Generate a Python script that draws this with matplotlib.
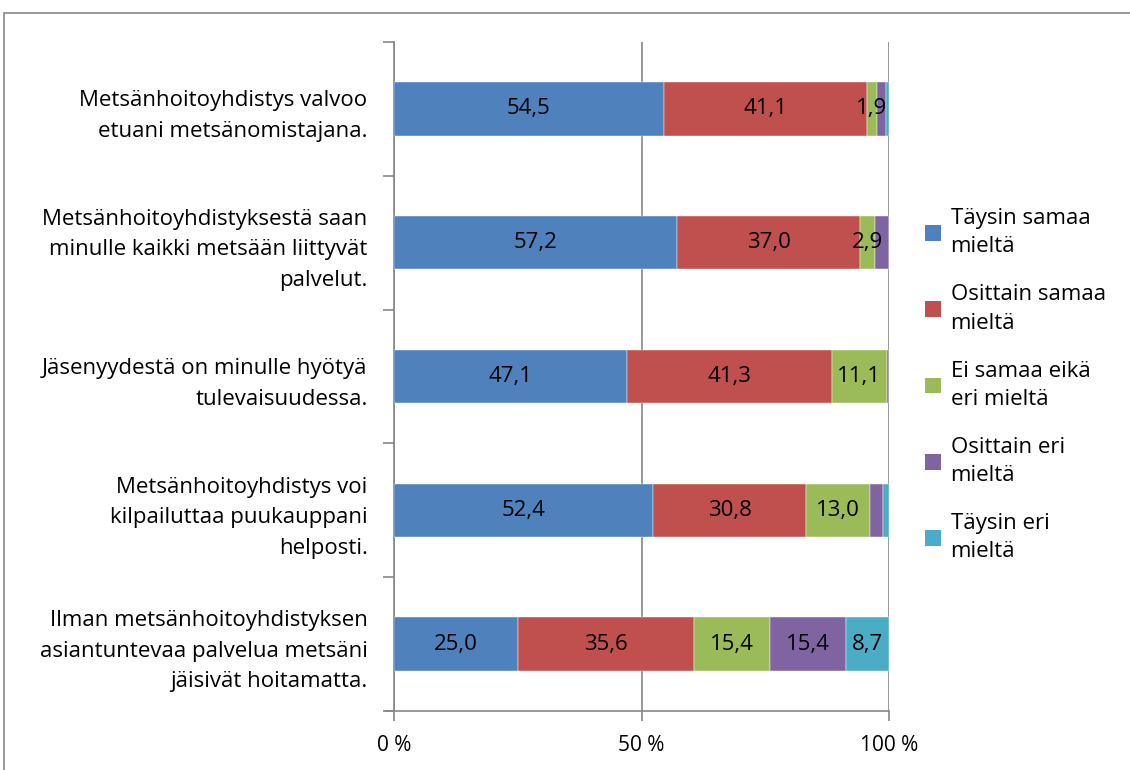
import numpy as np
import matplotlib.pyplot as plt
from matplotlib.patches import Rectangle, Patch

plt.rcParams['font.family'] = ['Open Sans', 'DejaVu Sans']

categories = [
    'Metsänhoitoyhdistys valvoo\netuani metsänomistajana.',
    'Metsänhoitoyhdistyksestä saan\nminulle kaikki metsään liittyvät\npalvelut.',
    'Jäsenyydestä on minulle hyötyä\ntulevaisuudessa.',
    'Metsänhoitoyhdistys voi\nkilpailuttaa puukauppani\nhelposti.',
    'Ilman metsänhoitoyhdistyksen\nasiantuntevaa palvelua metsäni\njäisivät hoitamatta.',
]
series = ['Täysin samaa\nmieltä', 'Osittain samaa\nmieltä', 'Ei samaa eikä\neri mieltä',
          'Osittain eri\nmieltä', 'Täysin eri\nmieltä']
taysin_samaa = [54.5, 57.2, 47.1, 52.4, 25.0]
osittain_samaa = [41.1, 37.0, 41.3, 30.8, 35.6]
ei_samaa_eika_eri = [1.9, 2.9, 11.1, 13.0, 15.4]
osittain_eri = [1.9, 2.9, 0.5, 2.5, 15.4]
taysin_eri = [0.6, 0.0, 0.0, 1.3, 8.7]
values = [taysin_samaa, osittain_samaa, ei_samaa_eika_eri, osittain_eri, taysin_eri]
# which rows carry a data label, per series
show_label = [
    [1, 1, 1, 1, 1],
    [1, 1, 1, 1, 1],
    [1, 1, 1, 1, 1],
    [0, 0, 0, 0, 1],
    [0, 0, 0, 0, 1],
]
colors = ['#4F81BD', '#C0504D', '#9BBB59', '#8064A2', '#4BACC6']
grey = '#868686'
fs = 16

fig = plt.figure(figsize=(11.3, 7.7), dpi=100)
fig.patches.append(Rectangle((4 / 1130, -0.1), 1.1, 0.1 + 1 - 13 / 770,
                             transform=fig.transFigure, fill=False,
                             edgecolor=grey, linewidth=1.2))
ax = fig.add_axes([394 / 1130, 1 - 711 / 770, 495 / 1130, 669 / 770])

y = np.arange(len(categories))
left = np.zeros(len(categories))
for vals, col, lab, mask in zip(values, colors, series, show_label):
    vals = np.array(vals)
    ax.barh(y, vals, left=left, height=0.4, color=col, edgecolor='white',
            linewidth=0.3, label=lab, zorder=3)
    for yi, (l, v, m) in enumerate(zip(left, vals, mask)):
        if m and v > 0:
            ax.text(l + v / 2, yi, f'{v:.1f}'.replace('.', ','), ha='center',
                    va='center', fontsize=fs, color='black', zorder=4)
    left += vals

ax.set_xlim(0, 100)
ax.set_ylim(len(categories) - 0.5, -0.5)
ax.set_xticks([0, 50, 100])
ax.set_xticklabels(['0 %', '50 %', '100 %'], fontsize=15)
ax.tick_params(axis='x', length=7, color=grey, width=1.2, pad=10)
ax.xaxis.grid(True, color=grey, linewidth=1.2, zorder=0)
ax.set_yticks(y)
ax.set_yticklabels(categories, fontsize=fs, linespacing=1.6)
ax.tick_params(axis='y', which='major', length=0, pad=19)
ax.set_yticks(np.arange(len(categories) + 1) - 0.5, minor=True)
ax.tick_params(axis='y', which='minor', length=8, color=grey, width=1.2)
for side in ['top', 'right']:
    ax.spines[side].set_visible(False)
for side in ['left', 'bottom']:
    ax.spines[side].set_color(grey)
    ax.spines[side].set_linewidth(1.2)
ax.spines['bottom'].set_bounds(-1.6, 100)
ax.spines['bottom'].set_clip_on(False)

handles = [Patch(facecolor=c, label=s) for c, s in zip(colors, series)]
leg = fig.legend(handles=handles, loc='upper left',
                 bbox_to_anchor=(905 / 1130, 1 - 188 / 770),
                 frameon=False, fontsize=fs, handlelength=0.7, handleheight=0.7,
                 handletextpad=0.45, labelspacing=1.22)
for t in leg.get_texts():
    t.set_linespacing(1.45)

fig.savefig('out.png', dpi=100)
